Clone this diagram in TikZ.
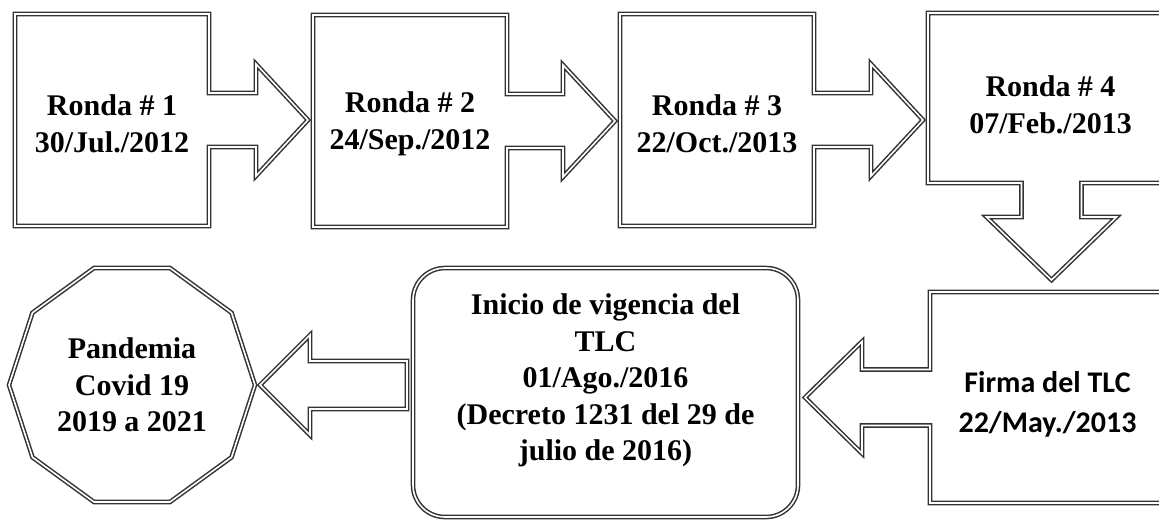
\documentclass[tikz,border=0pt]{standalone}
\usepackage{fontspec}
\setmainfont{Liberation Serif}
\newfontfamily\calibrifont{Carlito}
\usepackage{tikz}
\usetikzlibrary{calc, shapes.geometric}

\begin{document}
\begin{tikzpicture}[x=0.5pt, y=-0.5pt,
  dbl/.style = {draw=black!80, line width=0.75pt, double=white,
                double distance=0.8pt},
  txt/.style = {align=center, inner sep=0pt, outer sep=0pt,
                font=\fontsize{15}{18.3}\selectfont\bfseries},
  ronda/.style = {inner sep=0pt, outer sep=0pt,
                minimum width=97pt, minimum height=106pt},
  firmatxt/.style = {align=center, inner sep=0pt, outer sep=0pt,
                font=\fontsize{15}{20}\selectfont\calibrifont\bfseries},
  vigencia/.style = {dbl, rounded corners=16pt, inner sep=0pt, outer sep=0pt,
                minimum width=192.5pt, minimum height=124.5pt},
  pandemia/.style = {txt, dbl, regular polygon, regular polygon sides=10,
                minimum size=123pt},
  ]
  \useasboundingbox (0,0) rectangle (1159,521);

  \node[ronda] (r1) at (112,120) {};
  \node[ronda] (r2) at (410,121) {};
  \node[ronda] (r3) at (717,120) {};
  \node[ronda, minimum width=123.5pt, minimum height=85pt] (r4) at (1051.5,98) {};
  \node[ronda, minimum width=122.5pt, minimum height=105.5pt] (firma) at (1052.5,397.5) {};
  \node[vigencia] (inicio) at (605.5,392.5) {};
  \node[pandemia] (covid) at (132,385) {Pandemia\\Covid 19\\2019 a 2021};

  \node[txt] (t1) at ($(r1)+(0,4)$) {Ronda \# 1\\30/Jul./2012};
  \node[txt] (t2) at ($(r2)+(0,3)$) {Ronda \# 2\\24/Sep./2012};
  \node[txt] (t3) at ($(r3)+(0,4)$) {Ronda \# 3\\22/Oct./2013};
  \node[txt] (t4) at ($(r4)+(-1,7)$) {Ronda \# 4\\07/Feb./2013};
  \node[firmatxt] (t5) at ($(firma)+(-5,7)$) {Firma del TLC\\22/May./2013};
  \node[txt] (t6) at ($(inicio)+(0,-12)$)
    {Inicio de vigencia del\\TLC\\01/Ago./2016\\(Decreto 1231 del 29 de\\julio de 2016)};

  \foreach \a/\b in {r1/r2, r2/r3, r3/r4}{
    \coordinate (tip) at ($(\b.west |- \a.east)+(-5,0)$);
    \draw[dbl] (\a.north west) -- (\a.north east) -- ($(\a.east)+(0,-27)$)
      -- ($(tip)+(-52,-27)$) -- ($(tip)+(-52,-56)$) -- (tip)
      -- ($(tip)+(-52,56)$) -- ($(tip)+(-52,27)$) -- ($(\a.east)+(0,27)$)
      -- (\a.south east) -- (\a.south west) -- cycle;
  }

  \coordinate (dtip) at ($(firma.north -| r4.south)+(0,-12)$);
  \draw[dbl] (r4.north west) -- (r4.south west) -- ($(r4.south)+(-30,0)$)
    -- ($(dtip)+(-30,-63)$) -- ($(dtip)+(-65,-63)$) -- (dtip)
    -- ($(dtip)+(65,-63)$) -- ($(dtip)+(30,-63)$) -- ($(r4.south)+(30,0)$)
    -- (r4.south east) -- (r4.north east) -- cycle;

  \coordinate (ltip) at ($(inicio.east |- firma.west)+(7,0)$);
  \draw[dbl] (firma.north east) -- (firma.north west) -- ($(firma.west)+(0,-28)$)
    -- ($(ltip)+(57,-28)$) -- ($(ltip)+(57,-56)$) -- (ltip)
    -- ($(ltip)+(57,56)$) -- ($(ltip)+(57,28)$) -- ($(firma.west)+(0,28)$)
    -- (firma.south west) -- (firma.south east) -- cycle;

  \coordinate (ptip) at ($(covid.east)+(5,0)$);
  \coordinate (pend) at ($(inicio.west |- covid.east)+(-6,0)$);
  \draw[dbl] (ptip) -- ($(ptip)+(50,-50)$) -- ($(ptip)+(50,-24)$)
    -- ($(pend)+(0,-24)$) -- ($(pend)+(0,24)$) -- ($(ptip)+(50,24)$)
    -- ($(ptip)+(50,50)$) -- cycle;
\end{tikzpicture}
\end{document}
